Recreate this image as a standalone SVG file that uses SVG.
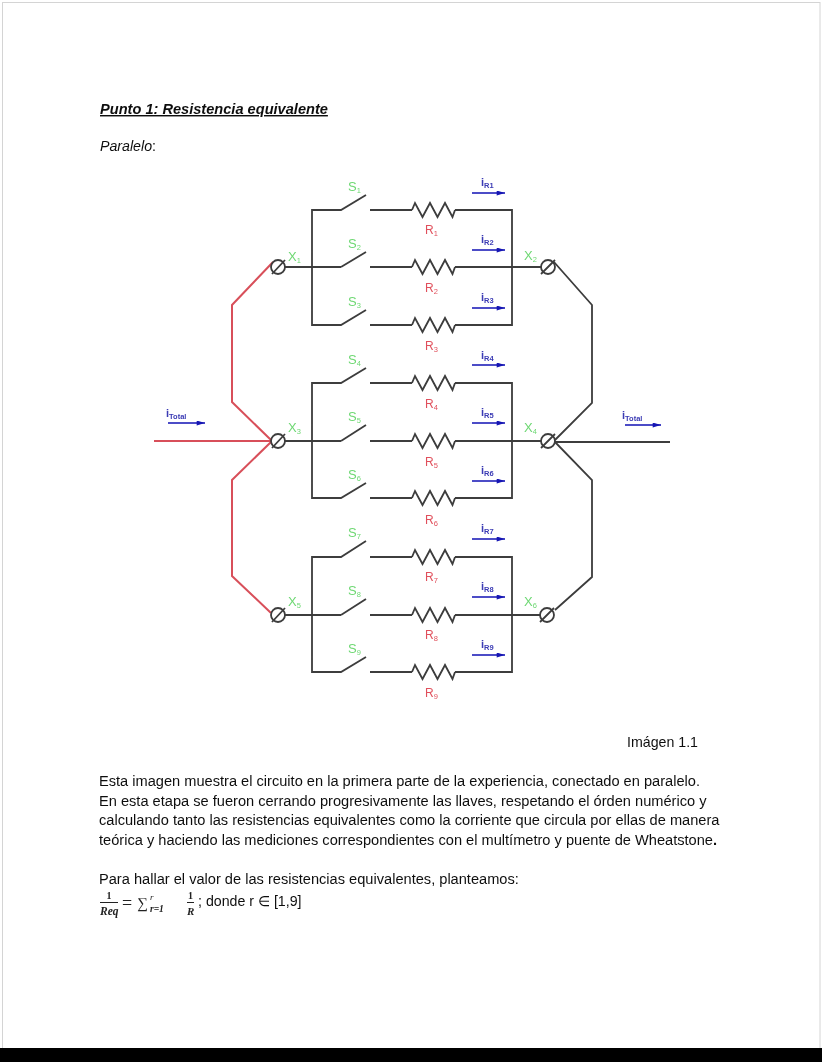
<svg xmlns="http://www.w3.org/2000/svg" width="822" height="1062" viewBox="0 0 822 1062">
<defs>
<filter id="soft" x="-5%" y="-5%" width="110%" height="110%"><feGaussianBlur stdDeviation="0.55"/></filter>
<filter id="softer" x="-5%" y="-5%" width="110%" height="110%"><feGaussianBlur stdDeviation="0.25"/></filter>
<marker id="ah" viewBox="0 0 10 6" refX="10" refY="3" markerWidth="10" markerHeight="5" markerUnits="userSpaceOnUse" orient="auto"><path d="M0 0L10 3L0 6Z" fill="#1414b4"/></marker>
<path id="res" d="M0 0L3 -7L10.500 7L18 -7L25.500 7L33 -7L40.500 7L43 0"/>
</defs>
<style>
.w{fill:none;stroke:#3c3c3c;stroke-width:1.800;stroke-linejoin:miter}
.r{fill:none;stroke:#d8505a;stroke-width:2}
.t{fill:none;stroke:#3c3c3c;stroke-width:1.800}
.c{fill:none;stroke:#1414b4;stroke-width:1.600;marker-end:url(#ah)}
text{font-family:"Liberation Sans",Arial,sans-serif}
.g{fill:#6ed873;font-size:13px}
.e{fill:#e0505c;font-size:12px}
.b{fill:#3a3ab4;font-size:11px;font-weight:bold}
.s{font-size:7.500px}
.p{fill:#111;font-size:14.200px}
.q{fill:#111;font-size:14.620px}
.m{font-family:"Liberation Serif",serif;fill:#222}
</style>
<rect width="822" height="1062" fill="#fff"/>
<rect x="2.500" y="2.500" width="817.500" height="1050" fill="none" stroke="#d4d4d4"/>
<rect x="0" y="1048" width="822" height="14" fill="#000"/>
<g filter="url(#softer)">
<text x="100" y="114" class="p" style="font-size:14.600px" font-weight="bold" font-style="italic" text-decoration="underline">Punto 1: Resistencia equivalente</text>
<text x="100" y="151" class="p" font-style="italic">Paralelo<tspan font-style="normal">:</tspan></text>
<text x="627" y="747" class="p">Imágen 1.1</text>
<text x="99" y="786" class="q">Esta imagen muestra el circuito en la primera parte de la experiencia, conectado en paralelo.</text>
<text x="99" y="806" class="q">En esta etapa se fueron cerrando progresivamente las llaves, respetando el órden numérico y</text>
<text x="99" y="825" class="q">calculando tanto las resistencias equivalentes como la corriente que circula por ellas de manera</text>
<text x="99" y="845" class="q">teórica y haciendo las mediciones correspondientes con el multímetro y puente de Wheatstone<tspan font-weight="bold">.</tspan></text>
<text x="99" y="884" class="q">Para hallar el valor de las resistencias equivalentes, planteamos:</text>
<text x="198" y="906" class="p">; donde r ∈ [1,9]</text>
<g id="formula">
<text x="109" y="899" class="m" font-size="10" text-anchor="middle" font-weight="bold">1</text>
<path d="M100 902.500H118M187 902.500H194" stroke="#222" fill="none"/>
<text x="100" y="915" class="m" font-size="11.500" font-style="italic" font-weight="bold">Req</text>
<text x="122" y="909" class="m" font-size="18">=</text>
<text x="137" y="908" class="m" font-size="15">∑</text>
<text x="150" y="900" class="m" font-size="9" font-style="italic">r</text>
<text x="150" y="912" class="m" font-size="9.500" font-style="italic" font-weight="bold">r=1</text>
<text x="190.500" y="899" class="m" font-size="10" text-anchor="middle" font-weight="bold">1</text>
<text x="187" y="915" class="m" font-size="11" font-style="italic" font-weight="bold">R</text>
</g>
</g>
<g filter="url(#soft)">
<g id="connectors">
<path class="r" d="M154 441H271M273 262L232 305V402L271 440M271 442L232 480V576L271 613"/>
<path class="w" d="M554 262L592 305V403L555 440M555 442L592 480V577L555 610M555 442H670"/>
<path class="w" d="M285 267H341M285 441H341M285 615H341M370 267H412M455 267H541M370 441H412M455 441H541M370 615H412M455 615H540"/>
<path class="w" d="M366 195L341 210H312V325H341L366 310M366 252L341 267M370 210H412M455 210H512V325H455M370 325H412"/>
<path class="w" d="M366 368L341 383H312V498H341L366 483M366 425L341 441M370 383H412M455 383H512V498H455M370 498H412"/>
<path class="w" d="M366 541L341 557H312V672H341L366 657M366 599L341 615M370 557H412M455 557H512V672H455M370 672H412"/>
<path class="c" d="M472 193H505"/><path class="c" d="M472 250H505"/><path class="c" d="M472 308H505"/>
<path class="c" d="M472 365H505"/><path class="c" d="M472 423H505"/><path class="c" d="M472 481H505"/>
<path class="c" d="M472 539H505"/><path class="c" d="M472 597H505"/><path class="c" d="M472 655H505"/>
<path class="c" d="M168 423H205"/><path class="c" d="M625 425H661"/>
</g>
<g id="X1"><circle class="t" cx="278" cy="267" r="7"/><path class="t" d="M272 274L285 260"/><text class="g" x="288" y="261">X<tspan class="s" dy="2">1</tspan></text></g>
<g id="X2"><circle class="t" cx="548" cy="267" r="7"/><path class="t" d="M541 274L555 260"/><text class="g" x="524" y="260">X<tspan class="s" dy="2">2</tspan></text></g>
<g id="X3"><circle class="t" cx="278" cy="441" r="7"/><path class="t" d="M272 448L285 434"/><text class="g" x="288" y="432">X<tspan class="s" dy="2">3</tspan></text></g>
<g id="X4"><circle class="t" cx="548" cy="441" r="7"/><path class="t" d="M541 448L555 434"/><text class="g" x="524" y="432">X<tspan class="s" dy="2">4</tspan></text></g>
<g id="X5"><circle class="t" cx="278" cy="615" r="7"/><path class="t" d="M272 622L285 608"/><text class="g" x="288" y="606">X<tspan class="s" dy="2">5</tspan></text></g>
<g id="X6"><circle class="t" cx="547" cy="615" r="7"/><path class="t" d="M540 622L554 608"/><text class="g" x="524" y="606">X<tspan class="s" dy="2">6</tspan></text></g>
<g id="branch1"><text class="g" x="348" y="191">S<tspan class="s" dy="2">1</tspan></text><use href="#res" class="w" x="412" y="210"/><text class="e" x="425" y="234">R<tspan class="s" dy="2">1</tspan></text><text class="b" x="481" y="186">i<tspan class="s" dy="2">R1</tspan></text></g>
<g id="branch2"><text class="g" x="348" y="248">S<tspan class="s" dy="2">2</tspan></text><use href="#res" class="w" x="412" y="267"/><text class="e" x="425" y="292">R<tspan class="s" dy="2">2</tspan></text><text class="b" x="481" y="243">i<tspan class="s" dy="2">R2</tspan></text></g>
<g id="branch3"><text class="g" x="348" y="306">S<tspan class="s" dy="2">3</tspan></text><use href="#res" class="w" x="412" y="325"/><text class="e" x="425" y="350">R<tspan class="s" dy="2">3</tspan></text><text class="b" x="481" y="301">i<tspan class="s" dy="2">R3</tspan></text></g>
<g id="branch4"><text class="g" x="348" y="364">S<tspan class="s" dy="2">4</tspan></text><use href="#res" class="w" x="412" y="383"/><text class="e" x="425" y="408">R<tspan class="s" dy="2">4</tspan></text><text class="b" x="481" y="359">i<tspan class="s" dy="2">R4</tspan></text></g>
<g id="branch5"><text class="g" x="348" y="421">S<tspan class="s" dy="2">5</tspan></text><use href="#res" class="w" x="412" y="441"/><text class="e" x="425" y="466">R<tspan class="s" dy="2">5</tspan></text><text class="b" x="481" y="416">i<tspan class="s" dy="2">R5</tspan></text></g>
<g id="branch6"><text class="g" x="348" y="479">S<tspan class="s" dy="2">6</tspan></text><use href="#res" class="w" x="412" y="498"/><text class="e" x="425" y="524">R<tspan class="s" dy="2">6</tspan></text><text class="b" x="481" y="474">i<tspan class="s" dy="2">R6</tspan></text></g>
<g id="branch7"><text class="g" x="348" y="537">S<tspan class="s" dy="2">7</tspan></text><use href="#res" class="w" x="412" y="557"/><text class="e" x="425" y="581">R<tspan class="s" dy="2">7</tspan></text><text class="b" x="481" y="532">i<tspan class="s" dy="2">R7</tspan></text></g>
<g id="branch8"><text class="g" x="348" y="595">S<tspan class="s" dy="2">8</tspan></text><use href="#res" class="w" x="412" y="615"/><text class="e" x="425" y="639">R<tspan class="s" dy="2">8</tspan></text><text class="b" x="481" y="590">i<tspan class="s" dy="2">R8</tspan></text></g>
<g id="branch9"><text class="g" x="348" y="653">S<tspan class="s" dy="2">9</tspan></text><use href="#res" class="w" x="412" y="672"/><text class="e" x="425" y="697">R<tspan class="s" dy="2">9</tspan></text><text class="b" x="481" y="648">i<tspan class="s" dy="2">R9</tspan></text></g>
<text class="b" x="166" y="417">i<tspan class="s" dy="2">Total</tspan></text>
<text class="b" x="622" y="419">i<tspan class="s" dy="2">Total</tspan></text>
</g>
</svg>
